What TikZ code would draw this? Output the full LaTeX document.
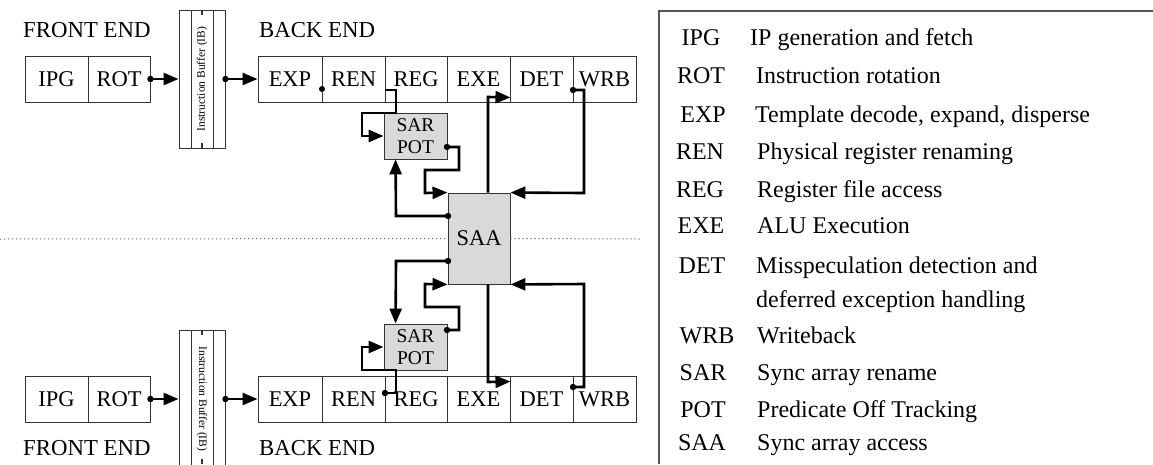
\documentclass[tikz,border=0pt]{standalone}
\usepackage{fontspec}
\setmainfont{Liberation Serif}
\usetikzlibrary{arrows.meta,calc}
\definecolor{boxc}{HTML}{333333}
\definecolor{fillc}{HTML}{D9D9D9}
\definecolor{legc}{HTML}{555555}
\begin{document}
\begin{tikzpicture}[x=1pt,y=-1pt,
  cell/.style={draw=boxc,line width=0.9pt,minimum height=46pt,inner sep=0pt,font=\fontsize{22.5}{24}\selectfont},
  saabox/.style={draw=boxc,line width=0.9pt,fill=fillc,minimum width=62pt,minimum height=91pt,inner sep=0pt,font=\fontsize{22.5}{24}\selectfont},
  sarbox/.style={draw=boxc,line width=0.9pt,fill=fillc,minimum width=63pt,minimum height=46pt,inner sep=0pt,align=center,font=\fontsize{19.5}{22}\selectfont},
  buf/.style={draw=boxc,line width=0.9pt,minimum width=46pt,minimum height=138pt,inner sep=0pt},
  buftxt/.style={font=\fontsize{11.5}{12}\selectfont,inner sep=0pt},
  head/.style={font=\fontsize{22.8}{24}\selectfont,inner sep=0pt,anchor=base west},
  conn/.style={line width=2.6pt,line join=miter},
  arr/.style={conn,-{Triangle[length=15pt,width=12pt]}},
  dot/.style={fill=black},
  abbr/.style={font=\fontsize{24}{26}\selectfont,inner sep=0pt,anchor=base},
  desc/.style={font=\fontsize{24}{26}\selectfont,inner sep=0pt,anchor=base west},
  sep/.style={draw=black!60,line width=1pt,dash pattern=on 1.2pt off 2.8pt},
  tick/.style={draw=boxc,line width=1.5pt}
]
\useasboundingbox (0,0) rectangle (1153,464);

% ---------------- TOP HALF ----------------
\node[head] (feT) at (23,37) {FRONT END};
\node[head] (beT) at (259,37) {BACK END};
\node[cell,minimum width=63pt] (ipgT) at (56.5,79) {IPG};
\node[cell,minimum width=62pt] (rotT) at (119,79) {ROT};
\node[buf] (bufT) at (202,79) {};
\draw[boxc,line width=0.9pt] (191,10) -- (191,148) (213,10) -- (213,148);
\draw[tick] (202,10) -- (202,15) (202,143) -- (202,148);
\node[buftxt,rotate=90] (bufTtxt) at (202,79) {Instruction Buffer (IB)};
\node[cell,minimum width=64pt] (expT) at (290,79) {EXP};
\node[cell,minimum width=63pt] (renT) at (353.5,79) {REN};
\node[cell,minimum width=62pt] (regT) at (416,79) {REG};
\node[cell,minimum width=63pt] (exeT) at (478.5,79) {EXE};
\node[cell,minimum width=63pt] (detT) at (541.5,79) {DET};
\node[cell,minimum width=63pt] (wrbT) at (604.5,79) {WRB};
\node[sarbox] (sarT) at (415.5,136) {SAR\\POT};

% ---------------- SAA ----------------
\node[saabox] (saa) at (479,238.5) {SAA};
\draw[sep] (0,239) -- (saa.west);
\draw[sep] (saa.east) -- (640,239);

% ---------------- BOTTOM HALF ----------------
\node[head] (feB) at (23,455) {FRONT END};
\node[head] (beB) at (259,455) {BACK END};
\node[cell,minimum width=63pt] (ipgB) at (56.5,399) {IPG};
\node[cell,minimum width=62pt] (rotB) at (119,399) {ROT};
\node[buf] (bufB) at (202,399) {};
\draw[boxc,line width=0.9pt] (191,330) -- (191,468) (213,330) -- (213,468);
\draw[tick] (202,330) -- (202,335) (202,459) -- (202,464);
\node[buftxt,rotate=-90] (bufBtxt) at (202,399) {Instruction Buffer (IB)};
\node[cell,minimum width=64pt] (expB) at (290,399) {EXP};
\node[cell,minimum width=63pt] (renB) at (353.5,399) {REN};
\node[cell,minimum width=62pt] (regB) at (416,399) {REG};
\node[cell,minimum width=63pt] (exeB) at (478.5,399) {EXE};
\node[cell,minimum width=63pt] (detB) at (541.5,399) {DET};
\node[cell,minimum width=63pt] (wrbB) at (604.5,399) {WRB};
\node[sarbox] (sarB) at (415.5,347) {SAR\\POT};

% ---------------- TOP CONNECTORS ----------------
\fill[dot] (rotT.east) circle (3.2pt);
\draw[arr] (rotT.east) -- (bufT.west);
\fill[dot] (bufT.east) circle (3.2pt);
\draw[arr] (bufT.east) -- (expT.west);
\coordinate (renDot) at (322,89);
\fill[dot] (renDot) circle (3pt);
% REG -> SAR
\draw[arr] ($(regT.west)+(0,11)$) -- (396,90) -- (396,113) -- (362,113) -- (362,136) -- (sarT.west);
% SAR -> SAA
\coordinate (sarTout) at (447,147);
\fill[dot] (sarTout) circle (3.2pt);
\draw[arr] (sarTout) -- (459,147) -- (459,170) -- (425,170) -- (425,193) -- (saa.north west);
% SAA -> SAR
\coordinate (saaTout) at (448,216);
\fill[dot] (saaTout) circle (3.2pt);
\draw[arr] (saaTout) -- (396,216) -- ($(sarT.south west)+(12,0)$);
% SAA -> EXE
\draw[arr] ($(saa.north)+(9,0)$) -- (488,97) -- ($(exeT.south east)+(0,-5)$);
% WRB -> SAA
\coordinate (wrbTdot) at (573,90);
\fill[dot] (wrbTdot) circle (3.2pt);
\draw[arr] (wrbTdot) -- (584,90) -- (584,193) -- (saa.north east);

% ---------------- BOTTOM CONNECTORS ----------------
\fill[dot] (rotB.east) circle (3.2pt);
\draw[arr] (rotB.east) -- (bufB.west);
\fill[dot] (bufB.east) circle (3.2pt);
\draw[arr] (bufB.east) -- (expB.west);
% REG -> SAR
\coordinate (regBdot) at (385,393);
\fill[dot] (regBdot) circle (3.2pt);
\draw[arr] (regBdot) -- (396,393) -- (396,370) -- (362,370) -- (362,347) -- (sarB.west);
% SAR -> SAA
\coordinate (sarBout) at (447,330);
\fill[dot] (sarBout) circle (3.2pt);
\draw[arr] (sarBout) -- (459,330) -- (459,307) -- (425,307) -- (425,284) -- (saa.south west);
% SAA -> SAR
\coordinate (saaBout) at (448,261);
\fill[dot] (saaBout) circle (3.2pt);
\draw[arr] (saaBout) -- (396,261) -- ($(sarB.north west)+(12,0)$);
% SAA -> EXE
\draw[arr] ($(saa.south)+(9,0)$) -- (488,382) -- ($(exeB.north east)+(0,6)$);
% WRB -> SAA
\coordinate (wrbBdot) at (573,387);
\fill[dot] (wrbBdot) circle (3.2pt);
\draw[arr] (wrbBdot) -- (584,387) -- (584,284) -- (saa.south east);

% ---------------- LEGEND ----------------
\draw[legc,line width=1.5pt] (1153,11) -- (659,11) -- (659,464);
\node[abbr] (a1) at (701,45) {IPG};  \node[desc] (d1) at (750,45) {IP generation and fetch};
\node[abbr] (a2) at (701,83) {ROT};  \node[desc] (d2) at (756,83) {Instruction rotation};
\node[abbr] (a3) at (703,122) {EXP}; \node[desc] (d3) at (755,122) {Template decode, expand, disperse};
\node[abbr] (a4) at (700,159) {REN}; \node[desc] (d4) at (757,159) {Physical register renaming};
\node[abbr] (a5) at (700,197) {REG}; \node[desc] (d5) at (757,197) {Register file access};
\node[abbr] (a6) at (701,233) {EXE}; \node[desc] (d6) at (757,233) {ALU Execution};
\node[abbr] (a7) at (702,273) {DET}; \node[desc] (d7) at (756,273) {Misspeculation detection and};
\node[desc] (d7b) at (756,307) {deferred exception handling};
\node[abbr] (a8) at (707,343) {WRB}; \node[desc] (d8) at (757,343) {Writeback};
\node[abbr] (a9) at (703,380) {SAR}; \node[desc] (d9) at (757,380) {Sync array rename};
\node[abbr] (a10) at (703,417) {POT}; \node[desc] (d10) at (757,417) {Predicate Off Tracking};
\node[abbr] (a11) at (702,450) {SAA}; \node[desc] (d11) at (757,450) {Sync array access};
\end{tikzpicture}
\end{document}
